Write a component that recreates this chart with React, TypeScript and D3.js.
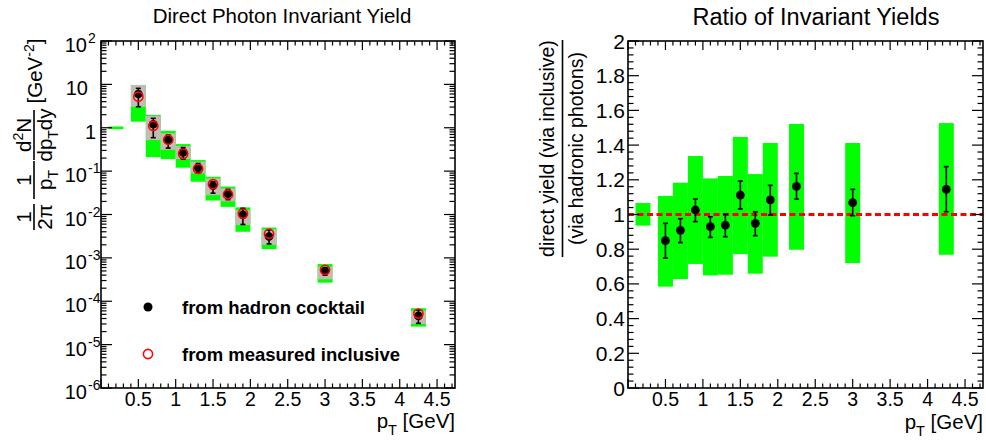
import React from 'react';
import * as d3 from 'd3';

// ---------- data ----------
const binCenters = [0.5, 0.7, 0.9, 1.1, 1.3, 1.5, 1.7, 1.9, 2.25, 3.0, 4.25];
const cocktailYield = [6.0, 1.2, 0.52, 0.27, 0.12, 0.046, 0.030, 0.0098, 0.0031, 0.00050, 4.6e-5];
const cocktailErrLo = [3.05, 0.59, 0.34, 0.19, 0.094, 0.031, 0.022, 0.0059, 0.0021, 4.0e-4, 3.1e-5];
const cocktailErrHi = [8.1, 1.65, 0.68, 0.35, 0.15, 0.057, 0.038, 0.0139, 0.0044, 5.9e-4, 6.3e-5];
const inclusiveYield = [5.2, 1.1, 0.53, 0.25, 0.113, 0.05, 0.029, 0.0105, 0.0036, 0.00053, 5.2e-5];
const greyLo = [3.05, 0.52, 0.31, 0.19, 0.089, 0.028, 0.020, 0.0057, 0.0020, 3.2e-4, 3.0e-5];
const greyHi = [9.7, 1.87, 0.745, 0.38, 0.165, 0.068, 0.040, 0.0127, 0.00455, 6.3e-4, 6.05e-5];

const greenCenters = [0.2, 0.5, 0.7, 0.9, 1.1, 1.3, 1.5, 1.7, 1.9, 2.25, 3.0, 4.25];
const greenLo = [0.93, 1.38, 0.21, 0.19, 0.12, 0.057, 0.021, 0.015, 0.004, 0.0016, 2.68e-4, 2.6e-5];
const greenHi = [1.07, 9.7, 1.97, 0.85, 0.42, 0.18, 0.074, 0.044, 0.0146, 0.005, 7.2e-4, 6.9e-5];

const ratioValues = [0.849, 0.909, 1.026, 0.93, 0.938, 1.112, 0.949, 1.084, 1.162, 1.068, 1.145];
const ratioErrLo = [0.749, 0.838, 0.959, 0.868, 0.872, 1.032, 0.878, 0.997, 1.088, 0.993, 1.016];
const ratioErrHi = [0.949, 0.976, 1.089, 0.987, 1.001, 1.193, 1.016, 1.168, 1.237, 1.145, 1.276];
const ratioBoxCenters = [0.2, 0.5, 0.7, 0.9, 1.1, 1.3, 1.5, 1.7, 1.9, 2.25, 3.0, 4.25];
const ratioBoxLo = [0.936, 0.584, 0.628, 0.715, 0.649, 0.653, 0.772, 0.659, 0.757, 0.797, 0.72, 0.768];
const ratioBoxHi = [1.066, 1.107, 1.183, 1.337, 1.208, 1.222, 1.447, 1.233, 1.412, 1.522, 1.412, 1.527];

const xTickValues = [0.5, 1, 1.5, 2, 2.5, 3, 3.5, 4, 4.5];
const xTickLabels = ['0.5', '1', '1.5', '2', '2.5', '3', '3.5', '4', '4.5'];
const logExponents = [-6, -5, -4, -3, -2, -1, 0, 1, 2];
const ratioTickValues = [0, 0.2, 0.4, 0.6, 0.8, 1, 1.2, 1.4, 1.6, 1.8, 2];
const ratioTickLabels = ['0', '0.2', '0.4', '0.6', '0.8', '1', '1.2', '1.4', '1.6', '1.8', '2'];

const legendLabels = ['from hadron cocktail', 'from measured inclusive'];

// ---------- layout ----------
const W = 986, H = 443;
const FONT = '"Liberation Sans", Arial, Helvetica, sans-serif';
const top = 41, bottom = 388;
const L = { x0: 101, x1: 455 };
const R = { x0: 628, x1: 983 };
const halfBin = 0.1;
const GREEN = '#00ff00';
const GREY = '#c3bcb4';

const xL = d3.scaleLinear().domain([0, 4.74]).range([L.x0, L.x1]);
const yL = d3.scaleLog().domain([1e-6, 1e2]).range([bottom, top]);
const xR = d3.scaleLinear().domain([0, 4.74]).range([R.x0, R.x1]);
const yR = d3.scaleLinear().domain([0, 2]).range([bottom, top]);

function XTicks({ x, x1 }: { x: d3.ScaleLinear<number, number>; x1: number }) {
  const minors = d3.range(0, 48).map((i) => i / 10).filter((v) => x(v) <= x1 + 0.5);
  return (
    <g stroke="#000" strokeWidth={1.2}>
      {minors.map((v, i) => {
        const major = Math.round(v * 10) % 5 === 0;
        const len = major ? 9 : 4.5;
        const px = x(v);
        return (
          <g key={i}>
            <line x1={px} x2={px} y1={bottom} y2={bottom - len} />
            <line x1={px} x2={px} y1={top} y2={top + len} />
          </g>
        );
      })}
    </g>
  );
}

function XLabels({ x }: { x: d3.ScaleLinear<number, number> }) {
  return (
    <g fontFamily={FONT} fontSize={19.5} textAnchor="middle" fill="#000">
      {xTickValues.map((v, i) => (
        <text key={i} x={x(v)} y={405.5}>
          {xTickLabels[i]}
        </text>
      ))}
    </g>
  );
}

function LogYTicks() {
  const items: { v: number; major: boolean }[] = [];
  for (const e of logExponents) {
    if (e < 2) {
      for (let m = 1; m <= 9; m++) items.push({ v: m * Math.pow(10, e), major: m === 1 });
    } else items.push({ v: Math.pow(10, e), major: true });
  }
  return (
    <g stroke="#000" strokeWidth={1.2}>
      {items.map((t, i) => {
        const py = yL(t.v);
        const len = t.major ? 11 : 5.5;
        return (
          <g key={i}>
            <line x1={L.x0} x2={L.x0 + len} y1={py} y2={py} />
            <line x1={L.x1} x2={L.x1 - len} y1={py} y2={py} />
          </g>
        );
      })}
    </g>
  );
}

function LogYLabels() {
  return (
    <g fontFamily={FONT} fill="#000">
      {logExponents.map((e) => {
        const py = yL(Math.pow(10, e)) + 11;
        if (e === 0)
          return (
            <text key={e} x={96} y={py} fontSize={20} textAnchor="end">
              1
            </text>
          );
        if (e === 1)
          return (
            <text key={e} x={88} y={py} fontSize={20} textAnchor="end">
              10
            </text>
          );
        return (
          <g key={e}>
            <text x={87} y={py} fontSize={20} textAnchor="end">
              10
            </text>
            <text x={88} y={py - 9} fontSize={14} textAnchor="start">
              {String(e)}
            </text>
          </g>
        );
      })}
    </g>
  );
}

function RatioYTicks() {
  const vals = d3.range(0, 51).map((i) => i * 0.04);
  return (
    <g stroke="#000" strokeWidth={1.2}>
      {vals.map((v, i) => {
        const major = i % 5 === 0;
        const len = major ? 11 : 5.5;
        const py = yR(v);
        return (
          <g key={i}>
            <line x1={R.x0} x2={R.x0 + len} y1={py} y2={py} />
            <line x1={R.x1} x2={R.x1 - len} y1={py} y2={py} />
          </g>
        );
      })}
    </g>
  );
}

function ErrorBar({ x, y1, y2 }: { x: number; y1: number; y2: number }) {
  return (
    <g stroke="#000" strokeWidth={1.6}>
      <line x1={x} x2={x} y1={y1} y2={y2} />
      <line x1={x - 2.5} x2={x + 2.5} y1={y1} y2={y1} />
      <line x1={x - 2.5} x2={x + 2.5} y1={y2} y2={y2} />
    </g>
  );
}

function LeftPanel() {
  return (
    <g>
      {greenCenters.map((c, i) => (
        <rect
          key={'g' + i}
          x={xL(c - halfBin)}
          width={xL(c + halfBin) - xL(c - halfBin)}
          y={yL(greenHi[i])}
          height={yL(greenLo[i]) - yL(greenHi[i])}
          fill={GREEN}
        />
      ))}
      {binCenters.map((c, i) => (
        <rect
          key={'s' + i}
          x={xL(c - halfBin)}
          width={xL(c + halfBin) - xL(c - halfBin)}
          y={yL(greyHi[i])}
          height={yL(greyLo[i]) - yL(greyHi[i])}
          fill={GREY}
        />
      ))}
      {binCenters.map((c, i) => (
        <g key={'p' + i}>
          <ErrorBar x={xL(c)} y1={yL(cocktailErrHi[i])} y2={yL(cocktailErrLo[i])} />
          <circle cx={xL(c)} cy={yL(cocktailYield[i])} r={4.3} fill="#000" />
          <circle cx={xL(c)} cy={yL(inclusiveYield[i])} r={4.6} fill="none" stroke="#ff0000" strokeWidth={1.6} />
        </g>
      ))}
      <circle cx={148} cy={307} r={4.5} fill="#000" />
      <circle cx={148} cy={354} r={4.6} fill="none" stroke="#ff0000" strokeWidth={1.6} />
      <g fontFamily={FONT} fontSize={18.5} fontWeight="bold" fill="#000">
        <text x={182} y={314}>{legendLabels[0]}</text>
        <text x={182} y={361}>{legendLabels[1]}</text>
      </g>
      <XTicks x={xL} x1={L.x1} />
      <LogYTicks />
      <rect x={L.x0} y={top} width={L.x1 - L.x0} height={bottom - top} fill="none" stroke="#000" strokeWidth={1.6} />
      <XLabels x={xL} />
      <LogYLabels />
      <text x={282} y={23} fontFamily={FONT} fontSize={20.5} textAnchor="middle">
        Direct Photon Invariant Yield
      </text>
      <text x={L.x1} y={428} fontFamily={FONT} fontSize={20.5} textAnchor="end">
        p<tspan fontSize={14.5} dy={7}>T</tspan>
        <tspan dy={-7}> [GeV]</tspan>
      </text>
      <g transform="rotate(-90)" fontFamily={FONT} fontSize={20.5} textAnchor="middle" fill="#000">
        <text x={-71} y={41.5}>
          [GeV<tspan fontSize={14} dy={-8}>-2</tspan>
          <tspan dy={8}>]</tspan>
        </text>
        <text x={-135} y={31}>
          d<tspan fontSize={14} dy={-8}>2</tspan>
          <tspan dy={8}>N</tspan>
        </text>
        <line x1={-160} x2={-110} y1={34} y2={34} stroke="#000" strokeWidth={1.6} />
        <text x={-135} y={52}>
          dp<tspan fontSize={14} dy={6}>T</tspan>
          <tspan dy={-6}>dy</tspan>
        </text>
        <text x={-180} y={31}>1</text>
        <line x1={-199} x2={-161} y1={34} y2={34} stroke="#000" strokeWidth={1.6} />
        <text x={-180} y={52}>
          p<tspan fontSize={14} dy={6}>T</tspan>
        </text>
        <text x={-217} y={31}>1</text>
        <line x1={-230} x2={-204} y1={34} y2={34} stroke="#000" strokeWidth={1.6} />
        <text x={-217} y={52}>2π</text>
      </g>
    </g>
  );
}

function RightPanel() {
  return (
    <g>
      {ratioBoxCenters.map((c, i) => (
        <rect
          key={'b' + i}
          x={xR(c - halfBin)}
          width={xR(c + halfBin) - xR(c - halfBin)}
          y={yR(ratioBoxHi[i])}
          height={yR(ratioBoxLo[i]) - yR(ratioBoxHi[i])}
          fill={GREEN}
        />
      ))}
      <line
        x1={R.x0}
        x2={R.x1}
        y1={yR(1)}
        y2={yR(1)}
        stroke="#ff0000"
        strokeWidth={3}
        strokeDasharray="6,3.5"
      />
      {binCenters.map((c, i) => (
        <g key={'r' + i}>
          <ErrorBar x={xR(c)} y1={yR(ratioErrHi[i])} y2={yR(ratioErrLo[i])} />
          <circle cx={xR(c)} cy={yR(ratioValues[i])} r={4.4} fill="#000" />
        </g>
      ))}
      <XTicks x={xR} x1={R.x1} />
      <RatioYTicks />
      <rect x={R.x0} y={top} width={R.x1 - R.x0} height={bottom - top} fill="none" stroke="#000" strokeWidth={1.6} />
      <XLabels x={xR} />
      <g fontFamily={FONT} fontSize={21} textAnchor="end" fill="#000">
        {ratioTickValues.map((v, i) => (
          <text key={i} x={625} y={yR(v) + 7.5}>
            {ratioTickLabels[i]}
          </text>
        ))}
      </g>
      <text x={816} y={25} fontFamily={FONT} fontSize={23.5} textAnchor="middle">
        Ratio of Invariant Yields
      </text>
      <text x={R.x1} y={429} fontFamily={FONT} fontSize={20.5} textAnchor="end">
        p<tspan fontSize={14.5} dy={7}>T</tspan>
        <tspan dy={-7}> [GeV]</tspan>
      </text>
      <g transform="rotate(-90)" fontFamily={FONT} fontSize={19.5} textAnchor="middle" fill="#000">
        <text x={-148.5} y={554}>direct yield (via inclusive)</text>
        <line x1={-257} x2={-40} y1={562.5} y2={562.5} stroke="#000" strokeWidth={1.6} />
        <text x={-148.5} y={583}>(via hadronic photons)</text>
      </g>
    </g>
  );
}

export default function App() {
  return (
    <svg
      width={W}
      height={H}
      viewBox={`0 0 ${W} ${H}`}
      style={{ position: 'absolute', left: 0, top: 0, background: '#fff' }}
    >
      <rect x={0} y={0} width={W} height={H} fill="#fff" />
      <LeftPanel />
      <RightPanel />
    </svg>
  );
}
